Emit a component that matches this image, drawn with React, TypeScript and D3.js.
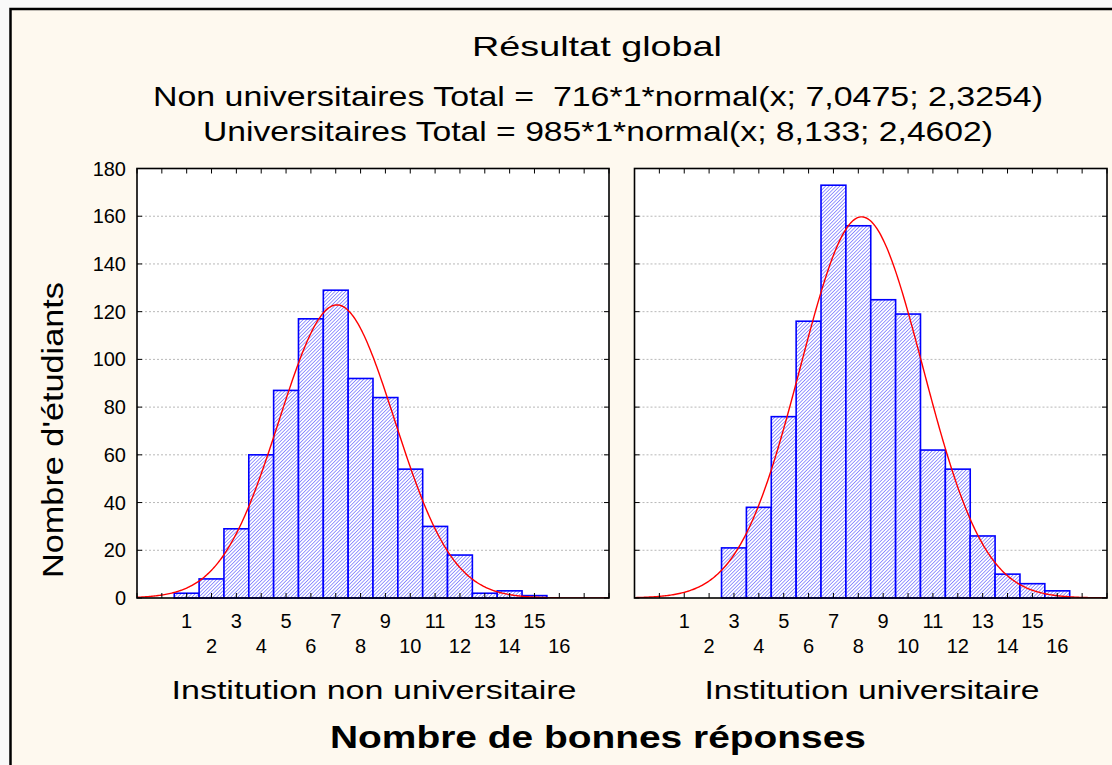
import React from 'react';
import * as d3 from 'd3';

// ---- data ----
const leftScores = [1, 2, 3, 4, 5, 6, 7, 8, 9, 10, 11, 12, 13, 14, 15];
const leftCounts = [2, 8, 29, 60, 87, 117, 129, 92, 84, 54, 30, 18, 2, 3, 1];
const rightScores = [3, 4, 5, 6, 7, 8, 9, 10, 11, 12, 13, 14, 15, 16];
const rightCounts = [21, 38, 76, 116, 173, 156, 125, 119, 62, 54, 26, 10, 6, 3];
const fitTotals = [716, 985];
const fitMeans = [7.0475, 8.133];
const fitSds = [2.3254, 2.4602];
const xTickValues = [1, 2, 3, 4, 5, 6, 7, 8, 9, 10, 11, 12, 13, 14, 15, 16];
const yTickValues = [0, 20, 40, 60, 80, 100, 120, 140, 160, 180];
const panelTitles = ['Institution non universitaire', 'Institution universitaire'];
const titleLines = [
  'Résultat global',
  'Non universitaires Total =\u00A0 716*1*normal(x; 7,0475; 2,3254)',
  'Universitaires Total = 985*1*normal(x; 8,133; 2,4602)',
];
const yLabel = "Nombre d'étudiants";
const xLabel = 'Nombre de bonnes réponses';

const FONT = "'Liberation Sans', Arial, Helvetica, sans-serif";

const panels = [
  { x0: 137, x1: 609, scores: leftScores, counts: leftCounts, fit: 0, titleX: 374, titleLen: 405 },
  { x0: 634.5, x1: 1107, scores: rightScores, counts: rightCounts, fit: 1, titleX: 872, titleLen: 335 },
];
const Y0 = 598, Y1 = 168.5;

const y = d3.scaleLinear().domain([0, 180]).range([Y0, Y1]);

function Panel({ p, idx }: { p: typeof panels[0]; idx: number }) {
  const x = d3.scaleLinear().domain([-1, 18]).range([p.x0, p.x1]);
  const bw = x(1) - x(0);
  const mu = fitMeans[p.fit], sd = fitSds[p.fit], tot = fitTotals[p.fit];
  const pts = d3.range(-1, 18.001, 0.05).map((v) => [v, tot * 1 * Math.exp(-0.5 * ((v - mu) / sd) ** 2) / (sd * Math.sqrt(2 * Math.PI))]);
  const line = d3.line<number[]>().x((d) => x(d[0])).y((d) => y(d[1]));
  const allTicks = d3.range(-1, 19);
  const clipId = `clip${idx}`;
  return (
    <g>
      <defs>
        <clipPath id={clipId}>
          <rect x={p.x0} y={Y1} width={p.x1 - p.x0} height={Y0 - Y1} />
        </clipPath>
      </defs>
      <rect x={p.x0} y={Y1} width={p.x1 - p.x0} height={Y0 - Y1} fill="#ffffff" />
      {yTickValues.slice(1, -1).map((t) => (
        <line key={t} x1={p.x0} x2={p.x1} y1={y(t)} y2={y(t)} stroke="#b8b8b8" strokeWidth={1} strokeDasharray="2,2" />
      ))}
      {p.scores.map((s, i) => (
        <rect key={s} x={x(s - 0.5)} y={y(p.counts[i])} width={bw} height={y(0) - y(p.counts[i])}
          fill="url(#hatch)" stroke="#0000ff" strokeWidth={1.6} />
      ))}
      <path d={line(pts) || ''} fill="none" stroke="#ff0000" strokeWidth={1.4} clipPath={`url(#${clipId})`} />
      {allTicks.map((t) => (
        <g key={t}>
          <line x1={x(t)} x2={x(t)} y1={Y1} y2={Y1 + 5} stroke="#000" strokeWidth={1} />
          <line x1={x(t)} x2={x(t)} y1={Y0} y2={Y0 - 5} stroke="#000" strokeWidth={1} />
        </g>
      ))}
      {yTickValues.map((t) => (
        <g key={t}>
          <line x1={p.x0} x2={p.x0 + 5} y1={y(t)} y2={y(t)} stroke="#000" strokeWidth={1} />
          <line x1={p.x1} x2={p.x1 - 5} y1={y(t)} y2={y(t)} stroke="#000" strokeWidth={1} />
        </g>
      ))}
      <rect x={p.x0} y={Y1} width={p.x1 - p.x0} height={Y0 - Y1} fill="none" stroke="#000" strokeWidth={1.6} />
      {xTickValues.map((t) => (
        <text key={t} x={x(t)} y={t % 2 === 1 ? 628 : 653} textAnchor="middle" fontSize={20}
          fontFamily={FONT} fill="#000">{String(t)}</text>
      ))}
      <text x={p.titleX} y={699} textAnchor="middle" fontSize={26} fontFamily={FONT} fill="#000"
        textLength={p.titleLen} lengthAdjust="spacingAndGlyphs">{panelTitles[idx]}</text>
    </g>
  );
}

export default function App() {
  return (
    <svg width={1112} height={765} style={{ position: 'absolute', left: 0, top: 0 }}>
      <defs>
        <pattern id="hatch" width={2.5} height={2.5} patternUnits="userSpaceOnUse" patternTransform="rotate(45)">
          <rect width={2.5} height={2.5} fill="#ffffff" />
          <line x1={0} y1={0} x2={0} y2={2.5} stroke="#5555ff" strokeWidth={1.2} />
        </pattern>
      </defs>
      <rect x={0} y={0} width={1112} height={765} fill="#f9f9f9" />
      <rect x={10.5} y={9} width={1130} height={780} fill="#fef9ef" stroke="#000" strokeWidth={2.5} />
      <text x={597} y={56} textAnchor="middle" fontSize={28} fontFamily={FONT} fill="#000"
        textLength={250} lengthAdjust="spacingAndGlyphs">{titleLines[0]}</text>
      <text x={598} y={106} textAnchor="middle" fontSize={28} fontFamily={FONT} fill="#000"
        textLength={890} lengthAdjust="spacingAndGlyphs">{titleLines[1]}</text>
      <text x={598} y={141} textAnchor="middle" fontSize={28} fontFamily={FONT} fill="#000"
        textLength={790} lengthAdjust="spacingAndGlyphs">{titleLines[2]}</text>
      {yTickValues.map((t) => (
        <text key={t} x={126} y={y(t) + 7} textAnchor="end" fontSize={20}
          fontFamily={FONT} fill="#000">{String(t)}</text>
      ))}
      <text transform={`translate(63,430) rotate(-90)`} textAnchor="middle" fontSize={29} fontFamily={FONT} fill="#000"
        textLength={296} lengthAdjust="spacingAndGlyphs">{yLabel}</text>
      {panels.map((p, i) => <Panel key={i} p={p} idx={i} />)}
      <text x={598} y={748} textAnchor="middle" fontSize={31} fontWeight="bold" fontFamily={FONT} fill="#000"
        textLength={536} lengthAdjust="spacingAndGlyphs">{xLabel}</text>
    </svg>
  );
}
